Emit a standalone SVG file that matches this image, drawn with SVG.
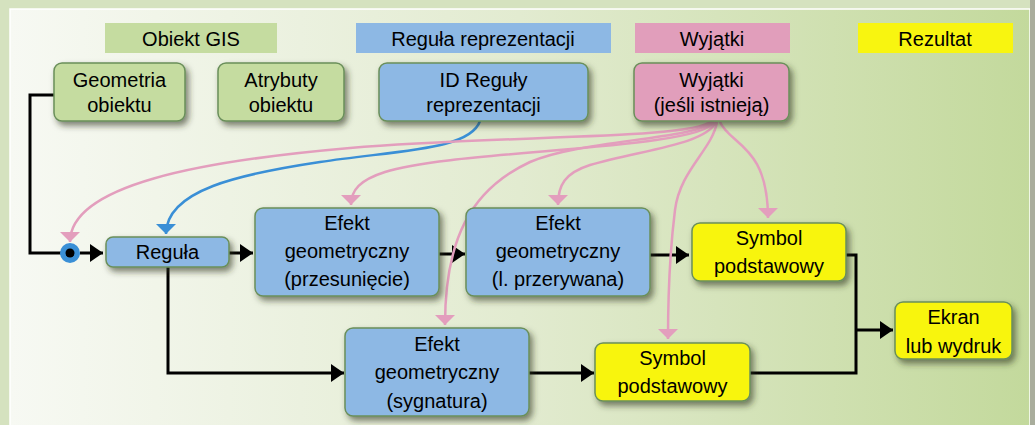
<svg xmlns="http://www.w3.org/2000/svg" width="1035" height="425" viewBox="0 0 1035 425">
<defs>
<linearGradient id="bg" x1="0" y1="0" x2="1" y2="0">
<stop offset="0" stop-color="#f7f9f3"/>
<stop offset="0.5" stop-color="#e2ebd0"/>
<stop offset="1" stop-color="#c3d99c"/>
</linearGradient>
<filter id="sh" x="-20%" y="-20%" width="150%" height="160%">
<feDropShadow dx="3" dy="4" stdDeviation="3" flood-color="#2a3320" flood-opacity="0.6"/>
</filter>
<marker id="ab" markerUnits="userSpaceOnUse" markerWidth="16" markerHeight="20" refX="13" refY="9" orient="auto">
<path d="M0,0 L13,9 L0,18 z" fill="#000"/>
</marker>
<marker id="ap" markerUnits="userSpaceOnUse" markerWidth="12" markerHeight="22" refX="10" refY="10" orient="auto">
<path d="M0,0 L10,10 L0,20 z" fill="#e39ebd"/>
</marker>
<marker id="abl" markerUnits="userSpaceOnUse" markerWidth="12" markerHeight="22" refX="10" refY="10" orient="auto">
<path d="M0,0 L10,10 L0,20 z" fill="#3a8fd6"/>
</marker>
</defs>
<style>
text{font-family:"Liberation Sans",Arial,sans-serif;font-size:20px;fill:#000;text-anchor:middle}
.n{stroke:#6a8f5a;stroke-width:1.5;filter:url(#sh)}
.g{fill:#c5dca0}.b{fill:#8db8e4}.p{fill:#e19ebb}.y{fill:#f8f510}
.k{fill:none;stroke:#000;stroke-width:3}
.pk{fill:none;stroke:#e39ebd;stroke-width:2.5;marker-end:url(#ap)}
.bl{fill:none;stroke:#3a8fd6;stroke-width:2.5;marker-end:url(#abl)}
</style>
<rect x="0" y="0" width="1035" height="425" fill="#d5e2bf"/>
<rect x="10" y="9" width="1020" height="430" fill="url(#bg)" stroke="#ffffff" stroke-width="1.5"/>
<rect x="1030" y="0" width="5" height="425" fill="#a9ad9c"/>

<g id="headers">
<rect x="105" y="23" width="172" height="30" class="g"/>
<text x="191" y="46">Obiekt GIS</text>
<rect x="356" y="23" width="255" height="30" class="b"/>
<text x="483" y="46">Reguła reprezentacji</text>
<rect x="635" y="23" width="155" height="30" class="p"/>
<text x="712" y="46">Wyjątki</text>
<rect x="858" y="23" width="155" height="30" class="y"/>
<text x="935" y="46">Rezultat</text>
</g>

<g id="connectors">
<path class="k" d="M54 95 H30 V253 H62"/>
<path class="k" d="M80 253 H103" marker-end="url(#ab)"/>
<path class="k" d="M229 253 H253" marker-end="url(#ab)"/>
<path class="k" d="M439 254 H465" marker-end="url(#ab)"/>
<path class="k" d="M650 255 H689" marker-end="url(#ab)"/>
<path class="k" d="M168 267 V373 H344" marker-end="url(#ab)"/>
<path class="k" d="M529 373 H594" marker-end="url(#ab)"/>
<path class="k" d="M846 255 H856 V373 H750"/>
<path class="k" d="M856 330 H893" marker-end="url(#ab)"/>
<path class="bl" d="M480 121 C470 150, 400 150, 320 162 C240 174, 166 190, 166 234"/>
<path class="pk" d="M712 121 C690 140, 500 135, 350 148 C200 161, 70 185, 70 242"/>
<path class="pk" d="M714 122 C700 150, 450 150, 385 172 C360 180, 351 190, 351 205"/>
<path class="pk" d="M716 122 C705 145, 640 150, 590 165 C565 173, 558 185, 558 205"/>
<path class="pk" d="M714 122 C690 140, 580 140, 530 162 C470 190, 445 240, 445 325"/>
<path class="pk" d="M717 122 C712 150, 680 170, 675 210 C670 250, 668 290, 668 339"/>
<path class="pk" d="M720 122 C730 145, 768 145, 768 218"/>
<circle cx="70" cy="253" r="10" fill="#3a8fd6"/>
<circle cx="70" cy="253" r="4.5" fill="#000"/>
</g>

<g id="geometria">
<rect x="54" y="63" width="131" height="58" rx="8" class="n g"/>
<text x="119.5" y="87">Geometria</text>
<text x="119.5" y="112">obiektu</text>
</g>
<g id="atrybuty">
<rect x="218" y="63" width="126" height="58" rx="8" class="n g"/>
<text x="281" y="87">Atrybuty</text>
<text x="281" y="112">obiektu</text>
</g>
<g id="id-reguly">
<rect x="379" y="63" width="209" height="58" rx="8" class="n b"/>
<text x="483.5" y="87">ID Reguły</text>
<text x="483.5" y="112">reprezentacji</text>
</g>
<g id="wyjatki">
<rect x="634" y="63" width="155" height="58" rx="8" class="n p"/>
<text x="711.5" y="87">Wyjątki</text>
<text x="711.5" y="112">(jeśli istnieją)</text>
</g>
<g id="regula">
<rect x="106" y="237" width="123" height="30" rx="7" class="n b"/>
<text x="167.5" y="259">Reguła</text>
</g>
<g id="efekt-przesuniecie">
<rect x="255" y="208" width="184" height="88" rx="8" class="n b"/>
<text x="347" y="230">Efekt</text>
<text x="347" y="258">geometryczny</text>
<text x="347" y="286">(przesunięcie)</text>
</g>
<g id="efekt-przerywana">
<rect x="466" y="208" width="184" height="88" rx="8" class="n b"/>
<text x="558" y="230">Efekt</text>
<text x="558" y="258">geometryczny</text>
<text x="558" y="286">(l. przerywana)</text>
</g>
<g id="symbol-top">
<rect x="692" y="223" width="154" height="58" rx="8" class="n y"/>
<text x="769" y="245">Symbol</text>
<text x="769" y="273">podstawowy</text>
</g>
<g id="efekt-sygnatura">
<rect x="345" y="328" width="184" height="88" rx="8" class="n b"/>
<text x="437" y="351">Efekt</text>
<text x="437" y="379">geometryczny</text>
<text x="437" y="408">(sygnatura)</text>
</g>
<g id="symbol-bottom">
<rect x="595" y="343" width="155" height="58" rx="8" class="n y"/>
<text x="672.5" y="365">Symbol</text>
<text x="672.5" y="393">podstawowy</text>
</g>
<g id="ekran">
<rect x="895" y="302" width="117" height="57" rx="8" class="n y"/>
<text x="953.5" y="324">Ekran</text>
<text x="953.5" y="353">lub wydruk</text>
</g>
</svg>
